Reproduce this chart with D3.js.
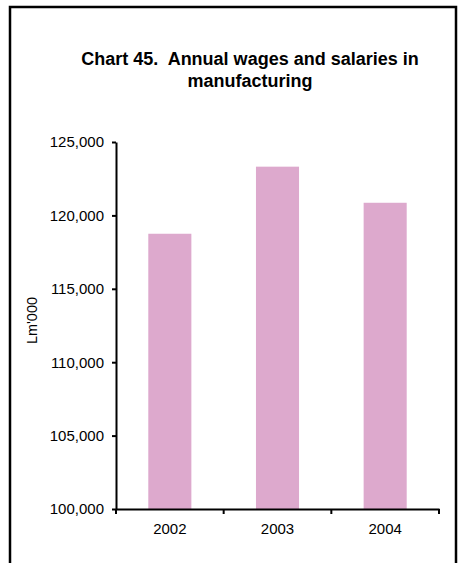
<!DOCTYPE html>
<html>
<head>
<meta charset="utf-8">
<script src="https://cdn.jsdelivr.net/npm/d3@7"></script>
<style>
  html, body { margin: 0; padding: 0; background: #fff; }
  svg { display: block; }
  text { font-family: Arial, "Liberation Sans", Helvetica, sans-serif; fill: #000; }
</style>
</head>
<body>
<svg id="chart" width="459" height="563"></svg>
<script>
const categories = ["2002", "2003", "2004"];
const values = [118750, 123320, 120860];
const yTicks = [100000, 105000, 110000, 115000, 120000, 125000];
const titleLines = ["Chart 45.  Annual wages and salaries in", "manufacturing"];
const yLabel = "Lm'000";

const svg = d3.select("#chart");
const W = 459, H = 563;
svg.append("rect").attr("width", W).attr("height", H).attr("fill", "#fff");

// outer frame
svg.append("rect")
  .attr("x", 10).attr("y", 7).attr("width", 446).attr("height", 600)
  .attr("fill", "none").attr("stroke", "#000").attr("stroke-width", 2.5);

const plot = { left: 116, right: 439, top: 142, bottom: 509 };

const x = d3.scaleBand().domain(categories)
  .range([plot.left, plot.right]).paddingInner(0.6).paddingOuter(0.3);
const y = d3.scaleLinear().domain([100000, 125000]).range([plot.bottom, plot.top]);

// title
const title = svg.append("text").attr("text-anchor", "middle")
  .style("font-weight", "bold").style("font-size", "18px").style("white-space", "pre");
titleLines.forEach((t, i) => {
  title.append("tspan").attr("x", 250).attr("y", 65 + i * 22).text(t);
});

// bars
svg.append("g").selectAll("rect").data(categories).join("rect")
  .attr("x", d => x(d))
  .attr("width", x.bandwidth())
  .attr("y", (d, i) => y(values[i]))
  .attr("height", (d, i) => y(100000) - y(values[i]))
  .attr("fill", "#dda9cd");

// y axis
const yAxis = svg.append("g").attr("transform", `translate(${plot.left},0)`)
  .call(d3.axisLeft(y).tickValues(yTicks).tickFormat(d3.format(",")).tickSize(4).tickSizeOuter(0).tickPadding(8));
yAxis.select(".domain").attr("stroke-width", 2);
yAxis.selectAll(".tick line").attr("stroke-width", 2);
yAxis.selectAll(".tick text").style("font-size", "15px").attr("font-family", null);

// x axis (labels at centers, ticks at category boundaries)
const xAxis = svg.append("g").attr("transform", `translate(0,${plot.bottom})`)
  .call(d3.axisBottom(x).tickSize(0).tickSizeOuter(0).tickPadding(14));
xAxis.select(".domain").attr("stroke-width", 2);
xAxis.selectAll(".tick text").style("font-size", "15px").attr("font-family", null);

const gap = (x.step() - x.bandwidth()) / 2;
const bounds = categories.map(d => x(d) - gap).concat([x(categories[categories.length - 1]) + x.bandwidth() + gap]);
xAxis.selectAll("line.bound").data(bounds).join("line")
  .attr("class", "bound")
  .attr("x1", d => d).attr("x2", d => d)
  .attr("y1", 0).attr("y2", 5)
  .attr("stroke", "#000").attr("stroke-width", 2);

// y label
svg.append("text")
  .attr("transform", `translate(37,${(plot.top + plot.bottom) / 2 - 5}) rotate(-90)`)
  .attr("text-anchor", "middle")
  .style("font-size", "14.5px")
  .text(yLabel);
</script>
</body>
</html>
